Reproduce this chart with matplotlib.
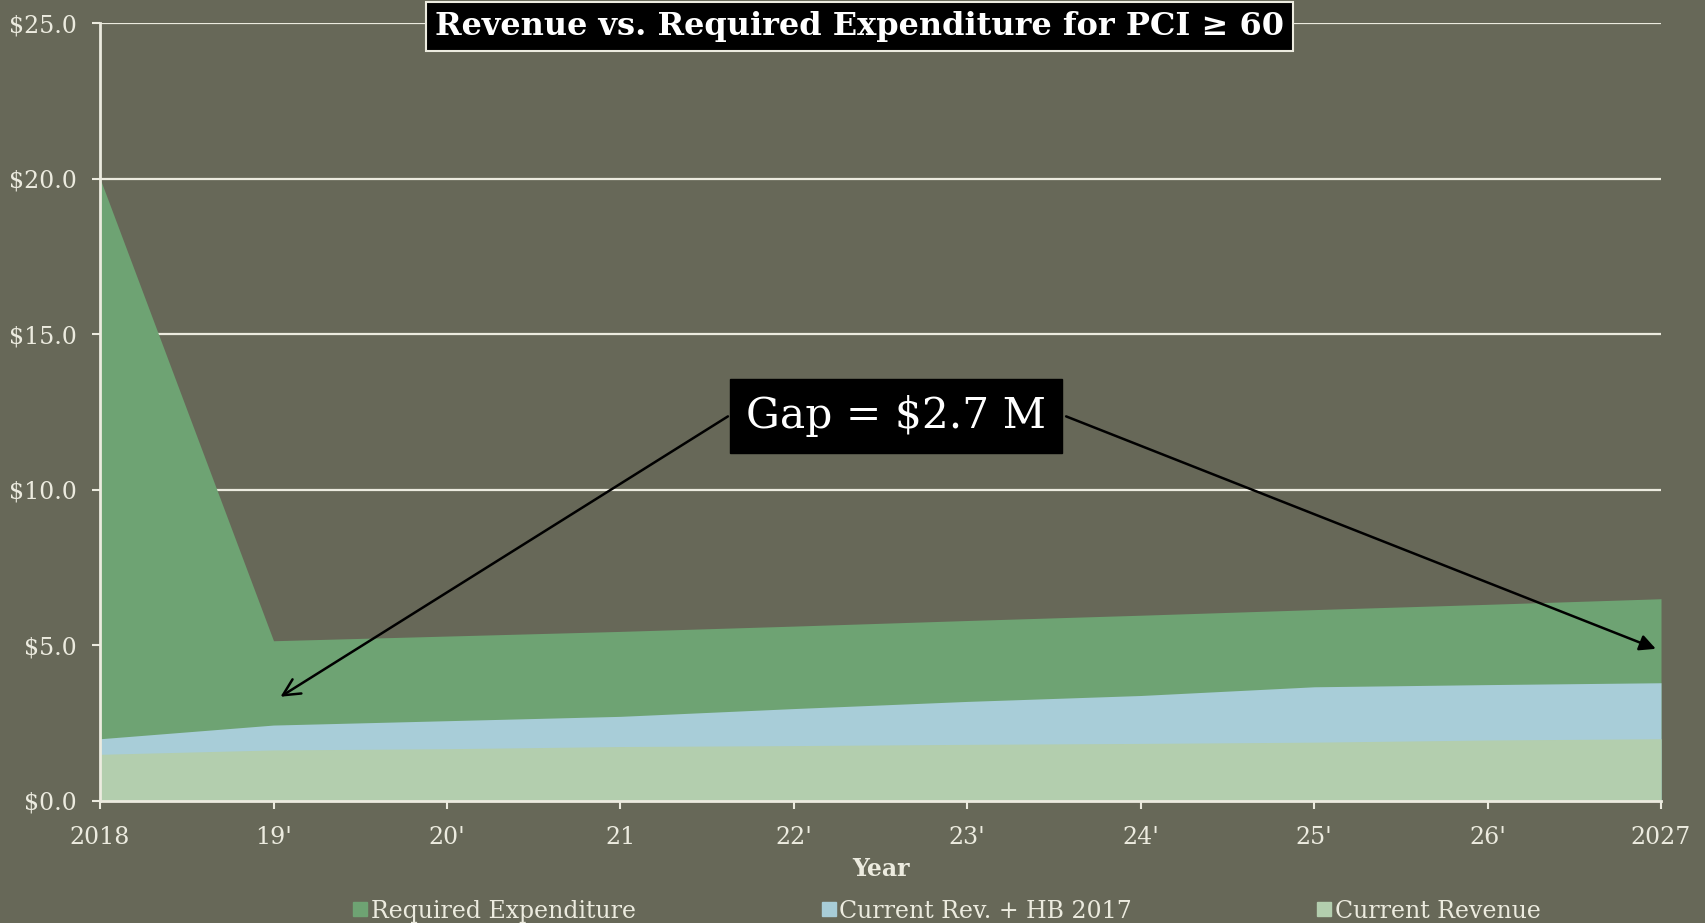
import matplotlib
matplotlib.use("Agg")
import matplotlib.pyplot as plt
from matplotlib.lines import Line2D

# ---- data (millions of dollars) ----
years = [2018, 2019, 2020, 2021, 2022, 2023, 2024, 2025, 2026, 2027]
year_labels = ["2018", "19'", "20'", "21", "22'", "23'", "24'", "25'", "26'", "2027"]
required_expenditure = [20.0, 5.15, 5.30, 5.45, 5.62, 5.80, 5.97, 6.15, 6.32, 6.50]
current_rev_hb2017 = [2.00, 2.44, 2.58, 2.72, 2.97, 3.20, 3.39, 3.67, 3.74, 3.80]
current_revenue = [1.50, 1.64, 1.68, 1.75, 1.78, 1.82, 1.85, 1.89, 1.96, 2.00]
series_names = ["Required Expenditure", "Current Rev. + HB 2017", "Current Revenue"]
y_ticks = [0, 5, 10, 15, 20, 25]
gap_label = "Gap = $2.7 M"

# ---- style ----
BG = "#676858"
CREAM = "#ecebdf"
C_REQ = "#6ea373"
C_HB = "#a8cdd8"
C_CUR = "#b3ceae"
FONT = ["DejaVu Serif"]

plt.rcParams["font.family"] = FONT

fig = plt.figure(figsize=(17.05, 9.23), dpi=100, facecolor=BG)
ax = fig.add_axes([0.0587, 0.1322, 0.9155, 0.8428])
ax.set_facecolor(BG)

# overlapping areas, drawn back to front
ax.fill_between(years, 0, required_expenditure, color=C_REQ, lw=0, zorder=2)
ax.fill_between(years, 0, current_rev_hb2017, color=C_HB, lw=0, zorder=3)
ax.fill_between(years, 0, current_revenue, color=C_CUR, lw=0, zorder=4)

ax.set_xlim(years[0], years[-1])
ax.set_ylim(0, 25)
ax.set_xticks(years)
ax.set_xticklabels(year_labels)
ax.set_yticks(y_ticks)
ax.set_yticklabels([f"${v:.1f}" for v in y_ticks])
ax.yaxis.grid(True, color=CREAM, lw=1.6, zorder=1)
ax.set_axisbelow(True)

for side in ("top", "right"):
    ax.spines[side].set_visible(False)
for side in ("left", "bottom"):
    ax.spines[side].set_color(CREAM)
    ax.spines[side].set_linewidth(2)
    ax.spines[side].set_zorder(6)

ax.tick_params(axis="both", colors=CREAM, labelcolor=CREAM, labelsize=17,
               length=6, width=1.5)
ax.tick_params(axis="x", pad=12)
ax.tick_params(axis="y", pad=11)
ax.set_xlabel("Year", color=CREAM, fontsize=17, fontweight="bold", labelpad=6)

# gap callout with arrows
box_x, box_y = 2022.59, 12.36
ax.annotate("", xy=(2019.04, 3.35), xytext=(2021.62, 12.36),
            arrowprops=dict(arrowstyle="->", color="black", lw=1.8,
                            mutation_scale=30, shrinkA=0, shrinkB=0), zorder=7)
ax.annotate("", xy=(2026.97, 4.89), xytext=(2023.57, 12.36),
            arrowprops=dict(arrowstyle="-|>", color="black", lw=1.8,
                            mutation_scale=24, shrinkA=0, shrinkB=0), zorder=7)
ax.text(box_x, box_y, gap_label, ha="center", va="center", color="white",
        fontsize=30.5, zorder=8,
        bbox=dict(boxstyle="square,pad=0.38", fc="black", ec="black"))

# title box
fig.text(0.504, 0.971, "Revenue vs. Required Expenditure for PCI \u2265 60",
         ha="center", va="center", color="white", fontsize=23, fontweight="bold",
         bbox=dict(boxstyle="square,pad=0.28", fc="black", ec=CREAM, lw=1.5))

# legend along the bottom edge
handles = [Line2D([], [], marker="s", ls="none", color=c, markersize=10)
           for c in (C_REQ, C_HB, C_CUR)]
fig.legend(handles, series_names, loc="center", bbox_to_anchor=(0.5555, 0.013),
           ncol=3, frameon=False, fontsize=17, labelcolor=CREAM,
           handlelength=0.6, handletextpad=0.15, columnspacing=7.85)

fig.savefig("out.png", dpi=100, facecolor=BG)
